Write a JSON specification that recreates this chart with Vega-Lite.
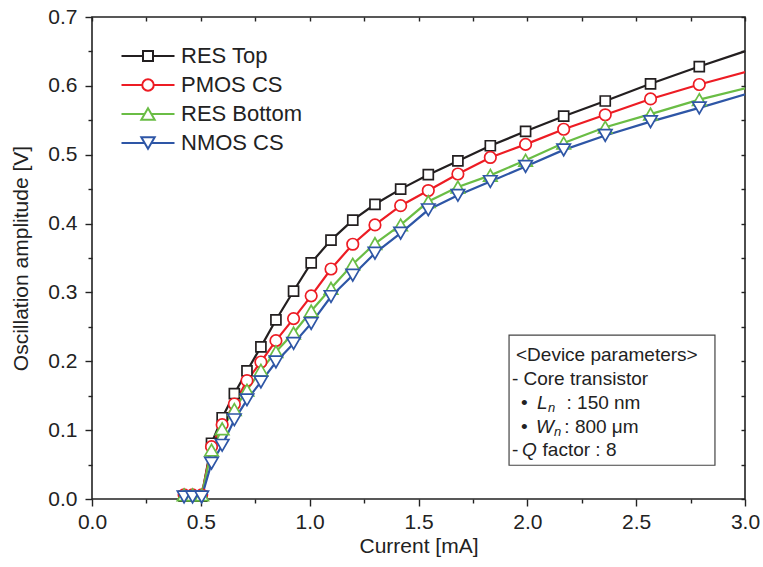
{
  "$schema": "https://vega.github.io/schema/vega-lite/v6.json",
  "width": 653,
  "height": 482,
  "autosize": {"type": "none"},
  "padding": {"left": 92, "top": 17, "right": 18, "bottom": 68},
  "background": "white",
  "config": {
    "font": "Liberation Sans",
    "view": {"stroke": "#222", "strokeWidth": 1.6},
    "axis": {"grid": false, "domain": false, "tickColor": "#222", "tickWidth": 1.4, "labelColor": "#222", "titleColor": "#222", "labelFont": "Liberation Sans", "titleFont": "Liberation Sans", "labelFontSize": 21, "titleFontSize": 21, "titleFontWeight": "normal", "labelOverlap": false, "labelFlush": false},
    "legend": {"labelFont": "Liberation Sans", "labelColor": "#222", "labelFontSize": 22}
  },
  "data": {"values": [
    {"s": "RES Top", "I": 0.423, "V": 0.004}, {"s": "RES Top", "I": 0.462, "V": 0.004}, {"s": "RES Top", "I": 0.504, "V": 0.004}, {"s": "RES Top", "I": 0.549, "V": 0.081}, {"s": "RES Top", "I": 0.598, "V": 0.118}, {"s": "RES Top", "I": 0.654, "V": 0.153}, {"s": "RES Top", "I": 0.712, "V": 0.186}, {"s": "RES Top", "I": 0.776, "V": 0.221}, {"s": "RES Top", "I": 0.845, "V": 0.26}, {"s": "RES Top", "I": 0.926, "V": 0.302}, {"s": "RES Top", "I": 1.007, "V": 0.343}, {"s": "RES Top", "I": 1.098, "V": 0.376}, {"s": "RES Top", "I": 1.198, "V": 0.405}, {"s": "RES Top", "I": 1.3, "V": 0.428}, {"s": "RES Top", "I": 1.418, "V": 0.45}, {"s": "RES Top", "I": 1.545, "V": 0.471}, {"s": "RES Top", "I": 1.681, "V": 0.491}, {"s": "RES Top", "I": 1.83, "V": 0.513}, {"s": "RES Top", "I": 1.992, "V": 0.534}, {"s": "RES Top", "I": 2.167, "V": 0.556}, {"s": "RES Top", "I": 2.358, "V": 0.578}, {"s": "RES Top", "I": 2.566, "V": 0.603}, {"s": "RES Top", "I": 2.79, "V": 0.628}, {"s": "RES Top", "I": 3.035, "V": 0.654},
    {"s": "PMOS CS", "I": 0.423, "V": 0.006}, {"s": "PMOS CS", "I": 0.462, "V": 0.006}, {"s": "PMOS CS", "I": 0.504, "V": 0.006}, {"s": "PMOS CS", "I": 0.549, "V": 0.076}, {"s": "PMOS CS", "I": 0.598, "V": 0.108}, {"s": "PMOS CS", "I": 0.654, "V": 0.138}, {"s": "PMOS CS", "I": 0.712, "V": 0.172}, {"s": "PMOS CS", "I": 0.776, "V": 0.199}, {"s": "PMOS CS", "I": 0.845, "V": 0.23}, {"s": "PMOS CS", "I": 0.926, "V": 0.262}, {"s": "PMOS CS", "I": 1.007, "V": 0.295}, {"s": "PMOS CS", "I": 1.098, "V": 0.334}, {"s": "PMOS CS", "I": 1.198, "V": 0.37}, {"s": "PMOS CS", "I": 1.3, "V": 0.398}, {"s": "PMOS CS", "I": 1.418, "V": 0.426}, {"s": "PMOS CS", "I": 1.545, "V": 0.448}, {"s": "PMOS CS", "I": 1.681, "V": 0.472}, {"s": "PMOS CS", "I": 1.83, "V": 0.496}, {"s": "PMOS CS", "I": 1.992, "V": 0.515}, {"s": "PMOS CS", "I": 2.167, "V": 0.537}, {"s": "PMOS CS", "I": 2.358, "V": 0.558}, {"s": "PMOS CS", "I": 2.566, "V": 0.581}, {"s": "PMOS CS", "I": 2.79, "V": 0.602}, {"s": "PMOS CS", "I": 3.035, "V": 0.623},
    {"s": "RES Bottom", "I": 0.423, "V": 0.006}, {"s": "RES Bottom", "I": 0.462, "V": 0.006}, {"s": "RES Bottom", "I": 0.504, "V": 0.006}, {"s": "RES Bottom", "I": 0.549, "V": 0.071}, {"s": "RES Bottom", "I": 0.598, "V": 0.102}, {"s": "RES Bottom", "I": 0.654, "V": 0.13}, {"s": "RES Bottom", "I": 0.712, "V": 0.158}, {"s": "RES Bottom", "I": 0.776, "V": 0.187}, {"s": "RES Bottom", "I": 0.845, "V": 0.214}, {"s": "RES Bottom", "I": 0.926, "V": 0.241}, {"s": "RES Bottom", "I": 1.007, "V": 0.273}, {"s": "RES Bottom", "I": 1.098, "V": 0.306}, {"s": "RES Bottom", "I": 1.198, "V": 0.341}, {"s": "RES Bottom", "I": 1.3, "V": 0.371}, {"s": "RES Bottom", "I": 1.418, "V": 0.398}, {"s": "RES Bottom", "I": 1.545, "V": 0.432}, {"s": "RES Bottom", "I": 1.681, "V": 0.453}, {"s": "RES Bottom", "I": 1.83, "V": 0.47}, {"s": "RES Bottom", "I": 1.992, "V": 0.492}, {"s": "RES Bottom", "I": 2.167, "V": 0.517}, {"s": "RES Bottom", "I": 2.358, "V": 0.54}, {"s": "RES Bottom", "I": 2.566, "V": 0.559}, {"s": "RES Bottom", "I": 2.79, "V": 0.58}, {"s": "RES Bottom", "I": 3.035, "V": 0.599},
    {"s": "NMOS CS", "I": 0.423, "V": 0.003}, {"s": "NMOS CS", "I": 0.462, "V": 0.003}, {"s": "NMOS CS", "I": 0.504, "V": 0.003}, {"s": "NMOS CS", "I": 0.549, "V": 0.052}, {"s": "NMOS CS", "I": 0.598, "V": 0.078}, {"s": "NMOS CS", "I": 0.654, "V": 0.115}, {"s": "NMOS CS", "I": 0.712, "V": 0.144}, {"s": "NMOS CS", "I": 0.776, "V": 0.17}, {"s": "NMOS CS", "I": 0.845, "V": 0.199}, {"s": "NMOS CS", "I": 0.926, "V": 0.226}, {"s": "NMOS CS", "I": 1.007, "V": 0.255}, {"s": "NMOS CS", "I": 1.098, "V": 0.294}, {"s": "NMOS CS", "I": 1.198, "V": 0.325}, {"s": "NMOS CS", "I": 1.3, "V": 0.357}, {"s": "NMOS CS", "I": 1.418, "V": 0.386}, {"s": "NMOS CS", "I": 1.545, "V": 0.42}, {"s": "NMOS CS", "I": 1.681, "V": 0.441}, {"s": "NMOS CS", "I": 1.83, "V": 0.461}, {"s": "NMOS CS", "I": 1.992, "V": 0.483}, {"s": "NMOS CS", "I": 2.167, "V": 0.507}, {"s": "NMOS CS", "I": 2.358, "V": 0.528}, {"s": "NMOS CS", "I": 2.566, "V": 0.548}, {"s": "NMOS CS", "I": 2.79, "V": 0.568}, {"s": "NMOS CS", "I": 3.035, "V": 0.591}
  ]},
  "layer": [
    {
      "mark": {"type": "line", "strokeWidth": 2.2, "clip": true},
      "encoding": {
        "x": {"field": "I", "type": "quantitative", "scale": {"domain": [0, 3], "nice": false, "zero": false},
          "axis": {"orient": "bottom", "title": "Current [mA]", "values": [0, 0.25, 0.5, 0.75, 1, 1.25, 1.5, 1.75, 2, 2.25, 2.5, 2.75, 3],
            "labelExpr": "datum.value % 0.5 === 0 ? format(datum.value, '.1f') : ''",
            "tickSize": {"condition": {"test": "datum.value % 0.5 === 0", "value": 7}, "value": 4},
            "labelPadding": 5, "titlePadding": 3}},
        "y": {"field": "V", "type": "quantitative", "scale": {"domain": [0, 0.7], "nice": false, "zero": false},
          "axis": {"orient": "left", "title": "Oscillation amplitude [V]", "values": [0, 0.05, 0.1, 0.15, 0.2, 0.25, 0.3, 0.35, 0.4, 0.45, 0.5, 0.55, 0.6, 0.65, 0.7],
            "labelExpr": "round(datum.value * 20) % 2 === 0 ? format(datum.value, '.1f') : ''",
            "tickSize": {"condition": {"test": "round(datum.value * 20) % 2 === 0", "value": 7}, "value": 4},
            "labelPadding": 8, "titlePadding": 16}},
        "stroke": {"field": "s", "type": "nominal",
          "scale": {"domain": ["RES Top", "PMOS CS", "RES Bottom", "NMOS CS"], "range": ["#231f20", "#ed1c24", "#6abd45", "#2e56a6"]},
          "legend": {"title": null, "orient": "none", "legendX": 45, "legendY": 28, "symbolSize": 100, "symbolStrokeWidth": 2, "symbolFillColor": "white", "symbolOpacity": 1, "rowPadding": 7, "labelOffset": 22, "labelFontSize": 22}}
      }
    },
    {
      "transform": [{"filter": "datum.I > 100"}],
      "mark": {"type": "point", "opacity": 1},
      "encoding": {
        "x": {"field": "I", "type": "quantitative", "axis": null},
        "y": {"field": "V", "type": "quantitative", "axis": null},
        "stroke": {"field": "s", "type": "nominal",
          "legend": {"title": null, "orient": "none", "legendX": 45, "legendY": 28, "symbolSize": 100, "symbolStrokeWidth": 2, "symbolFillColor": "white", "symbolOpacity": 1, "rowPadding": 7, "labelOffset": 22, "labelFontSize": 22}},
        "shape": {"field": "s", "type": "nominal",
          "scale": {"domain": ["RES Top", "PMOS CS", "RES Bottom", "NMOS CS"], "range": [
            "M-5.3,0H-1M1,0H5.3M-1,-1H1V1H-1Z",
            "M-5.3,0H-1.15M1.15,0H5.3M-1.15,0A1.15,1.15,0,1,1,1.15,0A1.15,1.15,0,1,1,-1.15,0Z",
            "M-5.3,0H-0.67M0.67,0H5.3M0,-1.16L1.34,1.16L-1.34,1.16Z",
            "M-5.3,0H-0.67M0.67,0H5.3M0,1.16L1.34,-1.16L-1.34,-1.16Z"]},
          "legend": {"title": null, "orient": "none", "legendX": 45, "legendY": 28, "symbolSize": 100, "symbolStrokeWidth": 2, "symbolFillColor": "white", "symbolOpacity": 1, "rowPadding": 7, "labelOffset": 22, "labelFontSize": 22}},
        "fill": {"value": "white"}
      }
    },
    {
      "transform": [{"filter": "datum.s === 'RES Top' && datum.I <= 3"}],
      "mark": {"type": "point", "shape": "square", "size": 100, "strokeWidth": 1.7, "opacity": 1},
      "encoding": {
        "x": {"field": "I", "type": "quantitative", "axis": null},
        "y": {"field": "V", "type": "quantitative", "axis": null},
        "stroke": {"field": "s", "type": "nominal", "legend": null},
        "fill": {"value": "white"}
      }
    },
    {
      "transform": [{"filter": "datum.s === 'PMOS CS' && datum.I <= 3"}],
      "mark": {"type": "point", "shape": "circle", "size": 132, "strokeWidth": 1.7, "opacity": 1},
      "encoding": {
        "x": {"field": "I", "type": "quantitative", "axis": null},
        "y": {"field": "V", "type": "quantitative", "axis": null},
        "stroke": {"field": "s", "type": "nominal", "legend": null},
        "fill": {"value": "white"}
      }
    },
    {
      "transform": [{"filter": "datum.s === 'RES Bottom' && datum.I <= 3"}],
      "mark": {"type": "point", "shape": "triangle-up", "size": 180, "strokeWidth": 1.7, "opacity": 1},
      "encoding": {
        "x": {"field": "I", "type": "quantitative", "axis": null},
        "y": {"field": "V", "type": "quantitative", "axis": null},
        "stroke": {"field": "s", "type": "nominal", "legend": null},
        "fill": {"value": "white"}
      }
    },
    {
      "transform": [{"filter": "datum.s === 'NMOS CS' && datum.I <= 3"}],
      "mark": {"type": "point", "shape": "triangle-down", "size": 180, "strokeWidth": 1.7, "opacity": 1},
      "encoding": {
        "x": {"field": "I", "type": "quantitative", "axis": null},
        "y": {"field": "V", "type": "quantitative", "axis": null},
        "stroke": {"field": "s", "type": "nominal", "legend": null},
        "fill": {"value": "white"}
      }
    },
    {
      "mark": {"type": "line", "strokeOpacity": 0, "clip": true},
      "encoding": {
        "x": {"field": "I", "type": "quantitative",
          "axis": {"orient": "top", "title": null, "labels": false, "values": [0, 0.25, 0.5, 0.75, 1, 1.25, 1.5, 1.75, 2, 2.25, 2.5, 2.75, 3], "tickSize": -4}},
        "y": {"field": "V", "type": "quantitative",
          "axis": {"orient": "right", "title": null, "labels": false, "values": [0, 0.05, 0.1, 0.15, 0.2, 0.25, 0.3, 0.35, 0.4, 0.45, 0.5, 0.55, 0.6, 0.65, 0.7], "tickSize": -4}}
      }
    },
    {
      "data": {"values": [{}]},
      "mark": {"type": "rect", "fill": "white", "stroke": "#444", "strokeWidth": 1.2},
      "encoding": {
        "x": {"datum": 1.916, "type": "quantitative", "axis": null},
        "x2": {"datum": 2.862},
        "y": {"datum": 0.238, "type": "quantitative", "axis": null},
        "y2": {"datum": 0.049}
      }
    },
    {"data": {"values": [{}]}, "mark": {"type": "text", "text": "<Device parameters>", "align": "left", "baseline": "middle", "fontSize": 19, "color": "#222"},
      "encoding": {"x": {"datum": 1.948, "type": "quantitative", "axis": null}, "y": {"datum": 0.2091, "type": "quantitative", "axis": null}}},
    {"data": {"values": [{}]}, "mark": {"type": "text", "text": "- Core transistor", "align": "left", "baseline": "middle", "fontSize": 19, "color": "#222"},
      "encoding": {"x": {"datum": 1.929, "type": "quantitative", "axis": null}, "y": {"datum": 0.1743, "type": "quantitative", "axis": null}}},
    {"data": {"values": [{}]}, "mark": {"type": "text", "text": "•", "align": "left", "baseline": "middle", "fontSize": 19, "color": "#222"},
      "encoding": {"x": {"datum": 1.971, "type": "quantitative", "axis": null}, "y": {"datum": 0.1394, "type": "quantitative", "axis": null}}},
    {"data": {"values": [{}]}, "mark": {"type": "text", "text": "L", "align": "left", "baseline": "middle", "fontSize": 19, "fontStyle": "italic", "color": "#222"},
      "encoding": {"x": {"datum": 2.044, "type": "quantitative", "axis": null}, "y": {"datum": 0.1394, "type": "quantitative", "axis": null}}},
    {"data": {"values": [{}]}, "mark": {"type": "text", "text": "n", "align": "left", "baseline": "middle", "fontSize": 13, "fontStyle": "italic", "color": "#222"},
      "encoding": {"x": {"datum": 2.095, "type": "quantitative", "axis": null}, "y": {"datum": 0.1322, "type": "quantitative", "axis": null}}},
    {"data": {"values": [{}]}, "mark": {"type": "text", "text": ": 150 nm", "align": "left", "baseline": "middle", "fontSize": 19, "color": "#222"},
      "encoding": {"x": {"datum": 2.18, "type": "quantitative", "axis": null}, "y": {"datum": 0.1394, "type": "quantitative", "axis": null}}},
    {"data": {"values": [{}]}, "mark": {"type": "text", "text": "•", "align": "left", "baseline": "middle", "fontSize": 19, "color": "#222"},
      "encoding": {"x": {"datum": 1.971, "type": "quantitative", "axis": null}, "y": {"datum": 0.1046, "type": "quantitative", "axis": null}}},
    {"data": {"values": [{}]}, "mark": {"type": "text", "text": "W", "align": "left", "baseline": "middle", "fontSize": 19, "fontStyle": "italic", "color": "#222"},
      "encoding": {"x": {"datum": 2.04, "type": "quantitative", "axis": null}, "y": {"datum": 0.1046, "type": "quantitative", "axis": null}}},
    {"data": {"values": [{}]}, "mark": {"type": "text", "text": "n", "align": "left", "baseline": "middle", "fontSize": 13, "fontStyle": "italic", "color": "#222"},
      "encoding": {"x": {"datum": 2.122, "type": "quantitative", "axis": null}, "y": {"datum": 0.0973, "type": "quantitative", "axis": null}}},
    {"data": {"values": [{}]}, "mark": {"type": "text", "text": ": 800 μm", "align": "left", "baseline": "middle", "fontSize": 19, "color": "#222"},
      "encoding": {"x": {"datum": 2.17, "type": "quantitative", "axis": null}, "y": {"datum": 0.1046, "type": "quantitative", "axis": null}}},
    {"data": {"values": [{}]}, "mark": {"type": "text", "text": "-", "align": "left", "baseline": "middle", "fontSize": 19, "color": "#222"},
      "encoding": {"x": {"datum": 1.929, "type": "quantitative", "axis": null}, "y": {"datum": 0.0712, "type": "quantitative", "axis": null}}},
    {"data": {"values": [{}]}, "mark": {"type": "text", "text": "Q", "align": "left", "baseline": "middle", "fontSize": 19, "fontStyle": "italic", "color": "#222"},
      "encoding": {"x": {"datum": 1.976, "type": "quantitative", "axis": null}, "y": {"datum": 0.0712, "type": "quantitative", "axis": null}}},
    {"data": {"values": [{}]}, "mark": {"type": "text", "text": "factor : 8", "align": "left", "baseline": "middle", "fontSize": 19, "color": "#222"},
      "encoding": {"x": {"datum": 2.07, "type": "quantitative", "axis": null}, "y": {"datum": 0.0712, "type": "quantitative", "axis": null}}}
  ],
  "resolve": {"axis": {"x": "independent", "y": "independent"}}
}
